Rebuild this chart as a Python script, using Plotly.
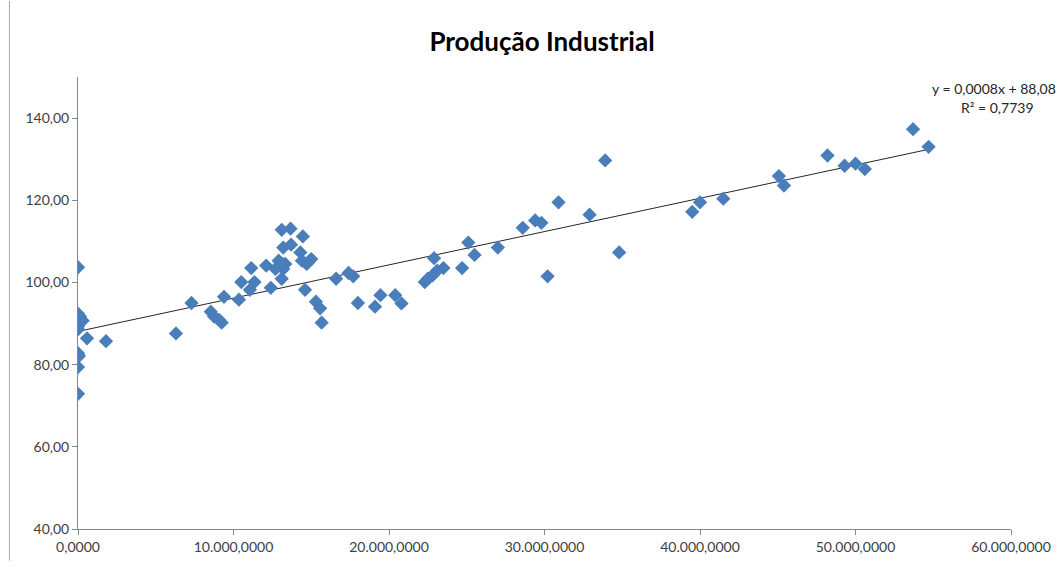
import plotly.graph_objects as go

# ---- data (x in thousands, y = index) ----
x_vals = [0, 0, 130, 300, 0, 0, 580, 1800, 0, 60, 0, 0,
          6300, 7300, 8540, 8750, 9070, 9240, 9390, 10350, 10500, 11050,
          11350, 11140, 12100, 12400, 13100, 13670, 14460, 13200, 13700,
          12900, 13160, 12700, 13200, 13100, 14300, 14400, 14800, 15000,
          14600, 15300, 15570, 15670, 16600, 17400, 17700, 18000, 19100,
          19450, 20400, 20800, 22300, 22500, 22800, 23100, 23500, 22900,
          24700, 25100, 25500, 27000, 28600, 29400, 29800, 30900, 30200,
          32900, 33900, 34800, 39500, 40000, 41500, 45070, 45400, 48200,
          49300, 50000, 50600, 53700, 54700, 13330, 14700]
y_vals = [103.7, 92.4, 91.7, 90.7, 89.3, 88.6, 86.4, 85.7, 82.8, 82.1, 79.4, 72.9,
          87.6, 95.0, 92.9, 91.7, 90.9, 90.2, 96.5, 95.8, 100.1, 98.2,
          100.1, 103.5, 104.1, 98.7, 112.8, 113.1, 111.2, 108.5, 109.2,
          105.3, 104.5, 103.3, 103.3, 100.9, 107.3, 105.3, 104.9, 105.7,
          98.2, 95.3, 93.7, 90.2, 100.9, 102.3, 101.5, 95.0, 94.1,
          96.9, 96.9, 94.9, 100.1, 100.9, 101.7, 102.9, 103.5, 105.9,
          103.5, 109.7, 106.7, 108.5, 113.3, 115.1, 114.5, 119.5, 101.5,
          116.5, 129.7, 107.3, 117.2, 119.5, 120.4, 125.9, 123.6, 130.9,
          128.4, 128.9, 127.6, 137.3, 133.0, 104.5, 104.5]

SLOPE = 0.00081
INTERCEPT = 88.08
EQ_TEXT = "y = 0,0008x + 88,08"
R2_TEXT = "R² = 0,7739"
TITLE = "Produção Industrial"

x_tickvals = [0, 10000, 20000, 30000, 40000, 50000, 60000]
x_ticktext = ["0,0000", "10.000,0000", "20.000,0000", "30.000,0000",
              "40.000,0000", "50.000,0000", "60.000,0000"]
y_tickvals = [40, 60, 80, 100, 120, 140]
y_ticktext = ["40,00", "60,00", "80,00", "100,00", "120,00", "140,00"]

FONT = "Lato, Calibri, Arial, sans-serif"

W, H = 1063, 567
ML, MR, MT, MB = 78, 46, 77, 32
pw, ph = W - ML - MR, H - MT - MB


def px(xp):
    return (xp - ML) / pw


def py(yp):
    return (H - MB - yp) / ph


fig = go.Figure()

x0, x1 = min(x_vals), max(x_vals)
fig.add_trace(go.Scatter(
    x=[x0, x1], y=[SLOPE * x0 + INTERCEPT, SLOPE * x1 + INTERCEPT],
    mode="lines", line=dict(color="#262626", width=1), hoverinfo="skip",
    showlegend=False))

fig.add_trace(go.Scatter(
    x=x_vals, y=y_vals, mode="markers",
    marker=dict(symbol="diamond", size=11, color="#4A7EBB",
                line=dict(width=0)),
    showlegend=False))

axis_common = dict(showgrid=False, zeroline=False, showline=True,
                   linecolor="#868686", linewidth=1, ticks="outside",
                   ticklen=5, tickcolor="#868686",
                   tickfont=dict(family=FONT, size=14, color="#404040"))

fig.update_xaxes(range=[0, 60000], tickvals=x_tickvals, ticktext=x_ticktext,
                 **axis_common)
fig.update_yaxes(range=[40, 150], tickvals=y_tickvals, ticktext=y_ticktext,
                 **axis_common)

fig.add_annotation(x=px(1000), y=py(89), xref="paper", yref="paper",
                   text=EQ_TEXT, showarrow=False, xanchor="center", yanchor="middle",
                   font=dict(family=FONT, size=14, color="#262626"))
fig.add_annotation(x=px(1003), y=py(108), xref="paper", yref="paper",
                   text=R2_TEXT, showarrow=False, xanchor="center", yanchor="middle",
                   font=dict(family=FONT, size=14, color="#262626"))

# outer chart border (left edge visible)
fig.add_shape(type="line", xref="paper", yref="paper",
              x0=px(9), x1=px(9), y0=py(0), y1=py(H),
              line=dict(color="#A6A6A6", width=1))

fig.update_layout(
    width=W, height=H,
    margin=dict(l=ML, r=MR, t=MT, b=MB),
    paper_bgcolor="white", plot_bgcolor="white",
    title=dict(text="<b>" + TITLE + "</b>", x=542 / W, xanchor="center",
               y=1 - 42 / H, yanchor="middle",
               font=dict(family=FONT, size=26, color="#000000")),
    font=dict(family=FONT),
)

fig.write_html("out.html")
